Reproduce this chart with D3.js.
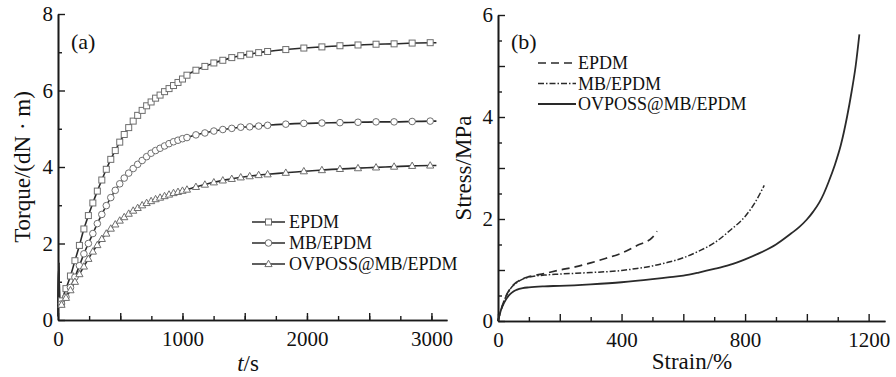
<!DOCTYPE html>
<html>
<head>
<meta charset="utf-8">
<script src="https://cdn.jsdelivr.net/npm/d3@7"></script>
<style>
  body { margin: 0; background: #fff; }
  svg text { font-family: "Liberation Serif", "Times New Roman", serif; fill: #111; }
</style>
</head>
<body>
<svg id="chart" width="896" height="377"></svg>
<script>
// (a) cure curves: marker times (s) and torque (dN·m)
const cureTime = [28,64,100,136,172,208,244,280,316,352,388,424,460,496,532,568,604,640,676,712,748,784,820,856,892,928,964,1000,
  1036,1108,1180,1252,1324,1396,1468,1540,1612,1684,1830,1975,2120,2265,2410,2555,2700,2845,2990];
const torqueEPDM = [0.5,0.82,1.15,1.55,1.95,2.38,2.73,3.06,3.37,3.66,3.94,4.2,4.43,4.65,4.85,5.03,5.2,5.35,5.48,5.6,5.7,5.8,5.88,5.97,6.05,6.13,6.21,6.3,
  6.4,6.53,6.63,6.72,6.79,6.86,6.91,6.95,6.99,7.02,7.07,7.11,7.14,7.17,7.19,7.21,7.22,7.24,7.25];
const torqueMB = [0.42,0.6,0.85,1.12,1.42,1.73,2.0,2.26,2.52,2.76,2.99,3.2,3.39,3.56,3.71,3.84,3.96,4.07,4.17,4.27,4.36,4.43,4.49,4.55,4.61,4.66,4.7,4.74,
  4.77,4.84,4.89,4.94,4.98,5.01,5.04,5.05,5.07,5.09,5.12,5.14,5.15,5.16,5.17,5.18,5.18,5.19,5.2];
const torqueOV = [0.4,0.58,0.78,1.0,1.2,1.4,1.6,1.79,1.96,2.12,2.26,2.39,2.5,2.6,2.69,2.78,2.86,2.93,3.0,3.06,3.11,3.16,3.2,3.24,3.28,3.32,3.35,3.38,
  3.41,3.48,3.54,3.6,3.65,3.69,3.73,3.76,3.79,3.81,3.85,3.89,3.92,3.95,3.97,3.99,4.01,4.03,4.04];
// start-up spike and tail of the traces (no markers)
const spikeTime = [0, 6, 14];
const spikeTorque = [0.1, 1.5, 0.4];
const tailTime = 3040;
const cureNames = ["EPDM", "MB/EPDM", "OVPOSS@MB/EPDM"];

// (b) stress-strain curves: strain (%) and stress (MPa)
const strainEPDM = [0,10,20,30,40,50,60,80,100,150,200,250,300,350,400,450,500,515];
const stressEPDM = [0,0.22,0.4,0.54,0.64,0.71,0.76,0.83,0.87,0.93,1.0,1.06,1.14,1.23,1.33,1.48,1.64,1.76];
const strainMB = [0,10,20,30,40,50,60,80,100,150,200,300,400,450,500,550,600,650,700,750,800,830,862];
const stressMB = [0,0.22,0.4,0.53,0.63,0.7,0.75,0.82,0.86,0.9,0.92,0.95,0.99,1.03,1.08,1.15,1.24,1.37,1.53,1.77,2.05,2.3,2.66];
const strainOV = [0,5,10,20,30,40,50,60,80,100,150,200,300,400,500,550,600,650,700,750,800,850,900,950,975,1000,1020,1040,1055,1070,1090,1110,1130,1145,1158,1170];
const stressOV = [0,0.12,0.22,0.36,0.46,0.53,0.58,0.61,0.645,0.66,0.68,0.69,0.72,0.76,0.82,0.855,0.89,0.95,1.02,1.1,1.21,1.34,1.5,1.72,1.84,1.99,2.14,2.32,2.5,2.72,3.05,3.45,4.0,4.5,5.0,5.62];
const tensileNames = ["EPDM", "MB/EPDM", "OVPOSS@MB/EPDM"];

const svg = d3.select("#chart");
const ink = "#1a1a1a";

function drawAxes(x, y, xMinor, xMajor, xLabels, yMinor, yMajor, yLabels) {
  const g = svg.append("g");
  const x0 = x.range()[0], y0 = y.range()[0];
  // minor ticks
  g.append("g").attr("transform", `translate(0,${y0})`)
    .call(d3.axisBottom(x).tickValues(xMinor).tickSize(-4).tickSizeOuter(0).tickFormat(""));
  g.append("g").attr("transform", `translate(${x0},0)`)
    .call(d3.axisLeft(y).tickValues(yMinor).tickSize(-4).tickSizeOuter(0).tickFormat(""));
  // major ticks
  g.append("g").attr("transform", `translate(0,${y0})`)
    .call(d3.axisBottom(x).tickValues(xMajor).tickSize(-7).tickSizeOuter(0)
      .tickFormat(d => xLabels.includes(d) ? d : "").tickPadding(11));
  g.append("g").attr("transform", `translate(${x0},0)`)
    .call(d3.axisLeft(y).tickValues(yMajor).tickSize(-7).tickSizeOuter(0)
      .tickFormat(d => yLabels.includes(d) ? d : "").tickPadding(5));
  g.selectAll("path.domain").attr("stroke", ink).attr("stroke-width", 1.6);
  g.selectAll(".tick line").attr("stroke", ink).attr("stroke-width", 1.4);
  g.selectAll(".tick text").style("font-size", "21px").attr("fill", ink);
}

// ---------- panel (a) ----------
const xa = d3.scaleLinear().domain([0, 3125]).range([58, 447]);
const ya = d3.scaleLinear().domain([0, 8]).range([320, 14]);
drawAxes(xa, ya, d3.range(250, 3125, 250), d3.range(0, 3125, 500), [0, 1000, 2000, 3000],
  d3.range(1, 8, 2), d3.range(0, 8.1, 2), [0, 2, 4, 6, 8]);

const cureSeries = [torqueEPDM, torqueMB, torqueOV];
const lineA = d3.line().x(d => xa(d[0])).y(d => ya(d[1])).curve(d3.curveMonotoneX);
cureSeries.forEach(vals => {
  const pts = spikeTime.map((t, i) => [t, spikeTorque[i]])
    .concat(cureTime.map((t, i) => [t, vals[i]]))
    .concat([[tailTime, vals[vals.length - 1]]]);
  svg.append("path").attr("d", lineA(pts))
    .attr("fill", "none").attr("stroke", "#2a2a2a").attr("stroke-width", 1.6);
});

const markerStroke = "#6e6e6e";
function drawMarker(g, kind, cx, cy) {
  if (kind === 0) {
    g.append("rect").attr("x", cx - 3).attr("y", cy - 3).attr("width", 6).attr("height", 6)
      .attr("fill", "#fff").attr("stroke", markerStroke).attr("stroke-width", 1);
  } else if (kind === 1) {
    g.append("circle").attr("cx", cx).attr("cy", cy).attr("r", 3.3)
      .attr("fill", "#fff").attr("stroke", markerStroke).attr("stroke-width", 1);
  } else {
    g.append("path").attr("d", `M${cx},${cy - 3.8}L${cx + 3.6},${cy + 2.6}L${cx - 3.6},${cy + 2.6}Z`)
      .attr("fill", "#fff").attr("stroke", markerStroke).attr("stroke-width", 1);
  }
}
cureSeries.forEach((vals, k) => {
  const g = svg.append("g");
  cureTime.forEach((t, i) => drawMarker(g, k, xa(t), ya(vals[i])));
});

// legend (a)
cureNames.forEach((name, k) => {
  const ly = 222 + k * 21;
  svg.append("line").attr("x1", 252).attr("x2", 285).attr("y1", ly).attr("y2", ly)
    .attr("stroke", "#2a2a2a").attr("stroke-width", 1.6);
  drawMarker(svg.append("g"), k, 268.5, ly);
  svg.append("text").attr("x", 289).attr("y", ly + 6).style("font-size", "18px").text(name);
});

svg.append("text").attr("x", 71).attr("y", 49).style("font-size", "22px").text("(a)");
svg.append("text").attr("x", 248).attr("y", 371).attr("text-anchor", "middle").style("font-size", "23px")
  .html('<tspan font-style="italic">t</tspan>/s');
svg.append("text").attr("transform", "translate(30,167) rotate(-90)").attr("text-anchor", "middle")
  .style("font-size", "23px").text("Torque/(dN · m)");

// ---------- panel (b) ----------
const xb = d3.scaleLinear().domain([0, 1253]).range([498, 885]);
const yb = d3.scaleLinear().domain([0, 6]).range([321, 15]);
drawAxes(xb, yb, d3.range(100, 1253, 200), d3.range(0, 1253, 200), [0, 400, 800, 1200],
  d3.range(0.5, 6, 1), d3.range(0, 6.1, 1), [0, 2, 4, 6]);

const lineB = d3.line().x(d => xb(d[0])).y(d => yb(d[1])).curve(d3.curveMonotoneX);
const tensile = [
  { s: strainEPDM, v: stressEPDM, dash: "8,5", w: 1.7 },
  { s: strainMB, v: stressMB, dash: "6,2,1.5,2", w: 1.5 },
  { s: strainOV, v: stressOV, dash: null, w: 1.8 }
];
tensile.forEach(c => {
  svg.append("path").attr("d", lineB(c.s.map((s, i) => [s, c.v[i]])))
    .attr("fill", "none").attr("stroke", "#2a2a2a").attr("stroke-width", c.w)
    .attr("stroke-dasharray", c.dash);
});

// legend (b)
tensileNames.forEach((name, k) => {
  const ly = 63 + k * 20.5;
  svg.append("line").attr("x1", 538).attr("x2", 576).attr("y1", ly).attr("y2", ly)
    .attr("stroke", "#2a2a2a").attr("stroke-width", tensile[k].w)
    .attr("stroke-dasharray", tensile[k].dash);
  svg.append("text").attr("x", 578).attr("y", ly + 6).style("font-size", "18px").text(name);
});

svg.append("text").attr("x", 511).attr("y", 49).style("font-size", "22px").text("(b)");
svg.append("text").attr("x", 692).attr("y", 369).attr("text-anchor", "middle").style("font-size", "23px")
  .text("Strain/%");
svg.append("text").attr("transform", "translate(471,168) rotate(-90)").attr("text-anchor", "middle")
  .style("font-size", "23px").text("Stress/MPa");
</script>
</body>
</html>
